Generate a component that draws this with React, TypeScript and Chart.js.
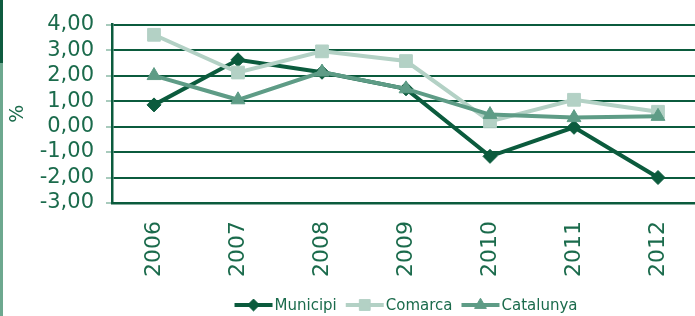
import React, { useEffect, useRef } from 'react';
import { Chart, registerables } from 'chart.js';
import { drawPoint } from 'chart.js/helpers';

Chart.register(...registerables);

const years = ['2006', '2007', '2008', '2009', '2010', '2011', '2012'];
const municipi = [0.85, 2.62, 2.13, 1.48, -1.17, -0.03, -2.0];
const comarca = [3.6, 2.12, 2.95, 2.57, 0.2, 1.05, 0.58];
const catalunya = [2.0, 1.05, 2.14, 1.48, 0.47, 0.35, 0.4];
const yMin = -3;
const yMax = 4;
const yStep = 1;

const DARK = '#0b5b3d';
const LIGHT = '#b3d1c5';
const MID = '#5e9c86';
const TEXT = '#1b6b4c';
const TICK = '#a8cbbd';
const FONT = '"DejaVu Sans", sans-serif';

const legendPlugin = {
  id: 'customLegend',
  afterDraw(chart: any) {
    const ctx = chart.ctx as CanvasRenderingContext2D;
    ctx.save();
    ctx.font = `15px ${FONT}`;
    const lineLen = 38;
    const gapText = 2;
    const gapItem = 9;
    const ds = chart.data.datasets;
    const widths = ds.map((d: any) => ctx.measureText(d.label).width);
    const total =
      widths.reduce((s: number, w: number) => s + lineLen + gapText + w, 0) + gapItem * (ds.length - 1);
    let x = (chart.chartArea.left + chart.chartArea.right) / 2 - total / 2;
    const y = chart.height - 11;
    ds.forEach((d: any, i: number) => {
      ctx.strokeStyle = d.borderColor;
      ctx.lineWidth = 4;
      ctx.beginPath();
      ctx.moveTo(x, y);
      ctx.lineTo(x + lineLen, y);
      ctx.stroke();
      ctx.fillStyle = d.backgroundColor;
      ctx.strokeStyle = d.borderColor;
      ctx.lineWidth = 1;
      drawPoint(ctx, { pointStyle: d.pointStyle, radius: d.pointRadius * 0.85, rotation: 0, borderWidth: 1 }, x + lineLen / 2, y);
      ctx.fillStyle = TEXT;
      ctx.textAlign = 'left';
      ctx.textBaseline = 'middle';
      ctx.fillText(d.label, x + lineLen + gapText, y + 1);
      x += lineLen + gapText + widths[i] + gapItem;
    });
    ctx.restore();
  },
};

export default function App() {
  const ref = useRef<HTMLCanvasElement>(null);
  useEffect(() => {
    if (!ref.current) return;
    const chart = new Chart(ref.current, {
      type: 'line',
      data: {
        labels: years,
        datasets: [
          {
            label: 'Municipi',
            data: municipi,
            borderColor: DARK,
            backgroundColor: DARK,
            borderWidth: 4,
            pointStyle: 'rectRot',
            pointRadius: 7,
            pointBorderWidth: 1,
            pointBackgroundColor: DARK,
            pointBorderColor: DARK,
            order: 3,
          },
          {
            label: 'Comarca',
            data: comarca,
            borderColor: LIGHT,
            backgroundColor: LIGHT,
            borderWidth: 4,
            pointStyle: 'rect',
            pointRadius: 9,
            pointBorderWidth: 1,
            pointBackgroundColor: LIGHT,
            pointBorderColor: LIGHT,
            order: 2,
          },
          {
            label: 'Catalunya',
            data: catalunya,
            borderColor: MID,
            backgroundColor: MID,
            borderWidth: 4,
            pointStyle: 'triangle',
            pointRadius: 8,
            pointBorderWidth: 1,
            pointBackgroundColor: MID,
            pointBorderColor: MID,
            order: 1,
          },
        ],
      },
      options: {
        animation: false,
        responsive: false,
        layout: { padding: { top: 20, right: 20, left: 0, bottom: 0 } },
        plugins: {
          legend: { display: false },
          tooltip: { enabled: false },
        },
        scales: {
          x: {
            offset: true,
            grid: { display: false, drawTicks: false },
            border: { display: true, color: DARK, width: 2.5 },
            ticks: {
              autoSkip: false,
              maxRotation: 90,
              minRotation: 90,
              padding: 18,
              color: TEXT,
              font: { family: FONT, size: 22 },
            },
            afterFit: (scale: any) => {
              scale.height = 113;
            },
          },
          y: {
            min: yMin,
            max: yMax,
            grid: { color: DARK, lineWidth: 2, tickColor: TICK, tickLength: 6, drawTicks: true },
            border: { display: true, color: DARK, width: 2.5 },
            ticks: {
              autoSkip: false,
              stepSize: yStep,
              padding: 12,
              color: TEXT,
              font: { family: FONT, size: 21 },
              callback: (v: any) => Number(v).toFixed(2).replace('.', ','),
            },
            title: {
              display: true,
              text: '%',
              color: TEXT,
              font: { family: FONT, size: 19 },
              padding: { top: 7, bottom: 0 },
            },
            afterFit: (scale: any) => {
              scale.width = 112;
            },
          },
        },
      },
      plugins: [legendPlugin],
    });
    return () => chart.destroy();
  }, []);

  return (
    <div
      style={{
        position: 'absolute',
        left: 0,
        top: 0,
        width: 695,
        height: 316,
        overflow: 'hidden',
        background: '#fff',
      }}
    >
      <div style={{ position: 'absolute', left: 0, top: 0, width: 3, height: 63, background: '#0e5b3f' }} />
      <div style={{ position: 'absolute', left: 0, top: 63, width: 3, height: 253, background: '#6da88f' }} />
      <canvas ref={ref} width={720} height={316} style={{ position: 'absolute', left: 0, top: 0 }} />
    </div>
  );
}
